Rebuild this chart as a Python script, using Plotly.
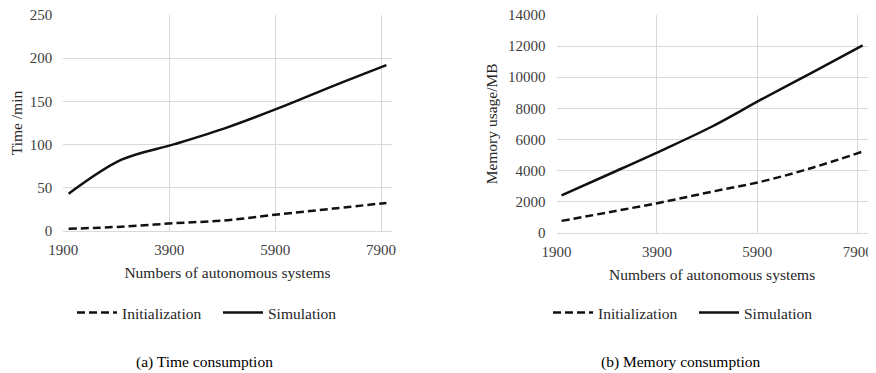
import plotly.graph_objects as go

# ---- data ----
as_counts = [2000, 3000, 4000, 5000, 6000, 7000, 8000]
time_init = [2.5, 5, 9, 12.5, 19.5, 26, 32.5]
time_sim = [43, 82.5, 100.5, 120, 143, 168, 192]
mem_init = [760, 1350, 1960, 2640, 3300, 4180, 5220]
mem_sim = [2400, 3840, 5300, 6830, 8600, 10310, 12050]

x_ticks = [1900, 3900, 5900, 7900]
series_names = ["Initialization", "Simulation"]

FONT = "Liberation Serif"
W, H = 876, 373
OFF = 8  # page body margin


def px(x):
    return (x - OFF) / W


def py(y):
    return (H - (y - OFF)) / H


fig = go.Figure()

dash_style = dict(color="#111111", width=2.5, dash="8px,4px", shape="spline", smoothing=1)
solid_style = dict(color="#111111", width=2.5, shape="spline", smoothing=1)

fig.add_trace(go.Scatter(x=as_counts, y=time_init, mode="lines", name=series_names[0],
                         line=dash_style, xaxis="x", yaxis="y", legend="legend"))
fig.add_trace(go.Scatter(x=as_counts, y=time_sim, mode="lines", name=series_names[1],
                         line=solid_style, xaxis="x", yaxis="y", legend="legend"))
fig.add_trace(go.Scatter(x=as_counts, y=mem_init, mode="lines", name=series_names[0],
                         line=dash_style, xaxis="x2", yaxis="y2", legend="legend2"))
fig.add_trace(go.Scatter(x=as_counts, y=mem_sim, mode="lines", name=series_names[1],
                         line=solid_style, xaxis="x2", yaxis="y2", legend="legend2"))

grid = "#d9d9d9"
tickfont = dict(family=FONT, size=15, color="#404040")
titlefont = dict(family=FONT, size=15.5, color="#262626")

def xax(domain, anchor):
    return dict(domain=domain, anchor=anchor, range=[1900, 8100], tickvals=x_ticks,
                showgrid=True, gridcolor=grid, gridwidth=1, zeroline=False,
                showline=True, linecolor=grid, linewidth=1, ticks="",
                tickfont=tickfont, ticklabelstandoff=5, automargin=False,
                ticklabeloverflow="allow",
                title=dict(text="Numbers of autonomous systems", font=titlefont, standoff=10))

def yax(domain, anchor, rng, dtick, title, standoff):
    return dict(domain=domain, anchor=anchor, range=rng, dtick=dtick, tickformat="d",
                showgrid=True, gridcolor=grid, gridwidth=1, zeroline=False,
                showline=False, ticks="", tickfont=tickfont, ticklabelstandoff=10,
                automargin=False, ticklabeloverflow="allow",
                title=dict(text=title, font=titlefont, standoff=standoff))

legend_common = dict(orientation="h", yanchor="middle", xanchor="left",
                     font=dict(family=FONT, size=15.5, color="#262626"),
                     bgcolor="rgba(0,0,0,0)", itemwidth=40, entrywidth=91)

fig.update_layout(
    width=W, height=H,
    margin=dict(l=0, r=0, t=0, b=0),
    paper_bgcolor="white", plot_bgcolor="white",
    xaxis=xax([px(63.3), px(391.7)], "y"),
    yaxis=yax([py(231), py(15)], "x", [0, 250], 50, "Time /min", 6),
    xaxis2=xax([px(556.5), px(867.7)], "y2"),
    yaxis2=yax([py(232.7), py(15)], "x2", [0, 14000], 2000, "Memory usage/MB", 6),
    legend=dict(legend_common, x=px(72), y=py(313)),
    legend2=dict(legend_common, x=px(548), y=py(313)),
    annotations=[
        dict(text="(a) Time consumption", x=px(204.5), y=py(361.5), xref="paper", yref="paper",
             showarrow=False, font=dict(family=FONT, size=15.5, color="#000000"),
             xanchor="center", yanchor="middle"),
        dict(text="(b) Memory consumption", x=px(681.3), y=py(361.5), xref="paper", yref="paper",
             showarrow=False, font=dict(family=FONT, size=15.5, color="#000000"),
             xanchor="center", yanchor="middle"),
    ],
)

fig.write_html("out.html")
